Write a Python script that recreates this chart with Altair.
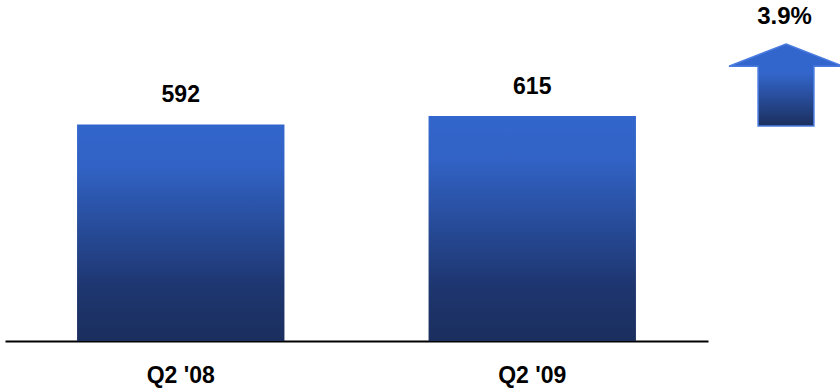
import altair as alt
import pandas as pd

categories = ["Q2 '08", "Q2 '09"]
values = [592, 615]
change_label = ["3.9%"]

df = pd.DataFrame({"cat": categories, "val": values})

bar_grad = alt.LinearGradient(
    gradient="linear",
    stops=[
        alt.GradientStop(offset=0, color="#3366CC"),
        alt.GradientStop(offset=0.2, color="#3162C4"),
        alt.GradientStop(offset=0.75, color="#1E3670"),
        alt.GradientStop(offset=1, color="#1B2F5E"),
    ],
    x1=0, x2=0, y1=0, y2=1,
)

FONT = "Liberation Sans"

x_enc = alt.X(
    "cat:N",
    sort=categories,
    scale=alt.Scale(paddingInner=0.41, paddingOuter=0.205),
    axis=alt.Axis(
        title=None,
        ticks=False,
        domainColor="black",
        domainWidth=2,
        labelAngle=0,
        labelFont=FONT,
        labelFontSize=23,
        labelFontWeight="bold",
        labelColor="black",
        labelPadding=23,
    ),
)
y_enc = alt.Y("val:Q", scale=alt.Scale(domain=[0, 932], nice=False, zero=True), axis=None)

bars = alt.Chart(df).mark_bar(color=bar_grad).encode(x=x_enc, y=y_enc)

labels = alt.Chart(df).mark_text(
    font=FONT, fontSize=23, fontWeight="bold", color="black", baseline="middle", dy=-29
).encode(x=x_enc, y=y_enc, text="val:Q")

arrow_path = "M0,-1 L1,-0.61 L0.49,-0.61 L0.49,0.44 L-0.49,0.44 L-0.49,-0.61 L-1,-0.61 Z"
arrow_df = pd.DataFrame({"label": change_label})

arrow_grad = alt.LinearGradient(
    gradient="linear",
    stops=[
        alt.GradientStop(offset=0, color="#3366CC"),
        alt.GradientStop(offset=0.35, color="#3366CC"),
        alt.GradientStop(offset=1, color="#1B2F5E"),
    ],
    x1=0, x2=0, y1=0, y2=1,
)

arrow = alt.Chart(arrow_df).mark_point(
    shape=arrow_path, size=12996, filled=True, fill=arrow_grad, opacity=1,
    stroke="#4A7BE0", strokeWidth=1.5,
).encode(x=alt.value(781), y=alt.value(101))

arrow_text = alt.Chart(arrow_df).mark_text(
    font=FONT, fontSize=24, fontWeight="bold", color="black", baseline="middle"
).encode(x=alt.value(779.5), y=alt.value(17), text="label:N")

chart = (
    alt.layer(bars, labels, arrow, arrow_text)
    .properties(
        width=703,
        height=341,
        autosize=alt.AutoSizeParams(type="none"),
        padding={"left": 5, "top": 0, "right": 132, "bottom": 47},
        background="white",
    )
    .configure_view(stroke=None)
)

chart.save("out.html", embed_options={"renderer": "svg", "actions": False})
